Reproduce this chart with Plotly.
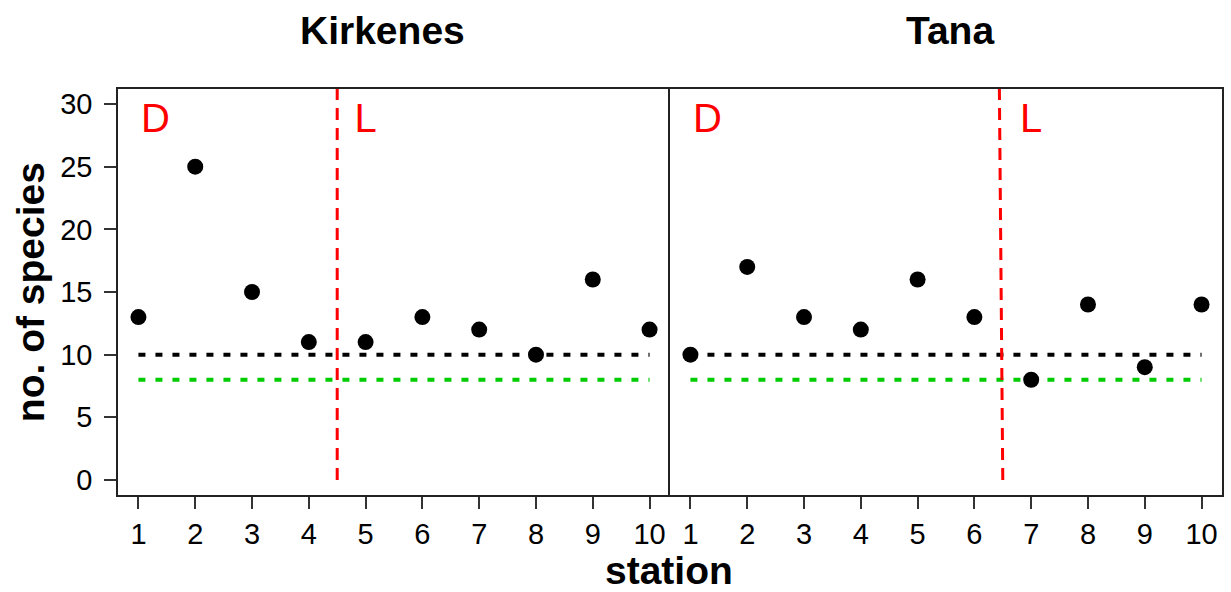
import plotly.graph_objects as go

# ---- data ----
stations = [1, 2, 3, 4, 5, 6, 7, 8, 9, 10]
kirkenes = [13, 25, 15, 11, 11, 13, 12, 10, 16, 12]
tana = [10, 17, 13, 12, 16, 13, 8, 14, 9, 14]
panel_names = ["Kirkenes", "Tana"]
black_level = 10
green_level = 8
boundary_kirkenes = 4.5
boundary_tana = 6.5
label_D_x = 1.3
label_L_x = [5.0, 7.0]
label_y = 28.6
y_ticks = [0, 5, 10, 15, 20, 25, 30]

FONT = "Liberation Sans, Arial, sans-serif"
W, H = 1231, 592
ML, MR, MT, MB = 118, 7, 89, 97
PW = W - ML - MR
PH = H - MT - MB

fig = go.Figure()

panels = [
    (kirkenes, "x", "y", boundary_kirkenes, boundary_kirkenes, label_L_x[0]),
    (tana, "x2", "y2", boundary_tana, boundary_tana - 0.06, label_L_x[1]),
]
for vals, xa, ya, bnd0, bnd1, lx in panels:
    # reference lines
    fig.add_trace(go.Scatter(x=[stations[0], stations[-1]], y=[black_level, black_level],
                             mode="lines", xaxis=xa, yaxis=ya, hoverinfo="skip",
                             line=dict(color="black", width=4, dash="7px,10px")))
    fig.add_trace(go.Scatter(x=[stations[0], stations[-1]], y=[green_level, green_level],
                             mode="lines", xaxis=xa, yaxis=ya, hoverinfo="skip",
                             line=dict(color="#00cc00", width=4, dash="7px,10px")))
    # boundary
    fig.add_trace(go.Scatter(x=[bnd0, bnd1], y=[0, 31.2], mode="lines", xaxis=xa, yaxis=ya,
                             hoverinfo="skip",
                             line=dict(color="#ff0000", width=3, dash="12px,8px")))
    # points
    fig.add_trace(go.Scatter(x=stations, y=vals, mode="markers", xaxis=xa, yaxis=ya,
                             marker=dict(color="black", size=16)))
    # D / L labels
    fig.add_trace(go.Scatter(x=[label_D_x, lx], y=[label_y, label_y], mode="text",
                             text=["D", "L"], xaxis=xa, yaxis=ya, hoverinfo="skip",
                             textfont=dict(family=FONT, size=40, color="#ff0000")))

axis_common = dict(
    range=[0.64, 10.36], tickmode="array", tickvals=stations,
    ticktext=[str(s) for s in stations], ticks="outside", ticklen=12, tickwidth=1.5,
    tickcolor="#333333", showline=True, linecolor="#222222", linewidth=1.5, mirror=True,
    showgrid=False, zeroline=False, tickfont=dict(family=FONT, size=29, color="black"),
)
fig.update_layout(
    xaxis=dict(domain=[0, 0.5], anchor="y", **axis_common),
    xaxis2=dict(domain=[0.5, 1], anchor="y2", **axis_common),
    yaxis=dict(range=[-1.2, 31.2], tickvals=y_ticks, ticks="outside", ticklen=12,
               tickwidth=1.5, tickcolor="#333333", showline=True, linecolor="#222222",
               linewidth=1.5, mirror=False, showgrid=False, zeroline=False,
               ticklabelstandoff=6,
               tickfont=dict(family=FONT, size=29, color="black"), anchor="x"),
    yaxis2=dict(range=[-1.2, 31.2], showticklabels=False, ticks="", showline=True,
                linecolor="#222222", linewidth=1.5, mirror=True, showgrid=False,
                zeroline=False, anchor="x2"),
    width=W, height=H, margin=dict(l=ML, r=MR, t=MT, b=MB),
    paper_bgcolor="white", plot_bgcolor="white", showlegend=False,
)

def px_x(p):
    return (p - ML) / PW

def px_y(p):
    return (H - MB - p) / PH

annotations = [
    dict(text="<b>Kirkenes</b>", x=px_x(383), y=px_y(30)),
    dict(text="<b>Tana</b>", x=px_x(952), y=px_y(30)),
    dict(text="<b>station</b>", x=px_x(670), y=px_y(570)),
    dict(text="<b>no. of species</b>", x=px_x(30), y=px_y(292), textangle=-90),
]
for a in annotations:
    fig.add_annotation(xref="paper", yref="paper", showarrow=False,
                       xanchor="center", yanchor="middle",
                       font=dict(family=FONT, size=39, color="black"), **a)

fig.write_html("out.html")
